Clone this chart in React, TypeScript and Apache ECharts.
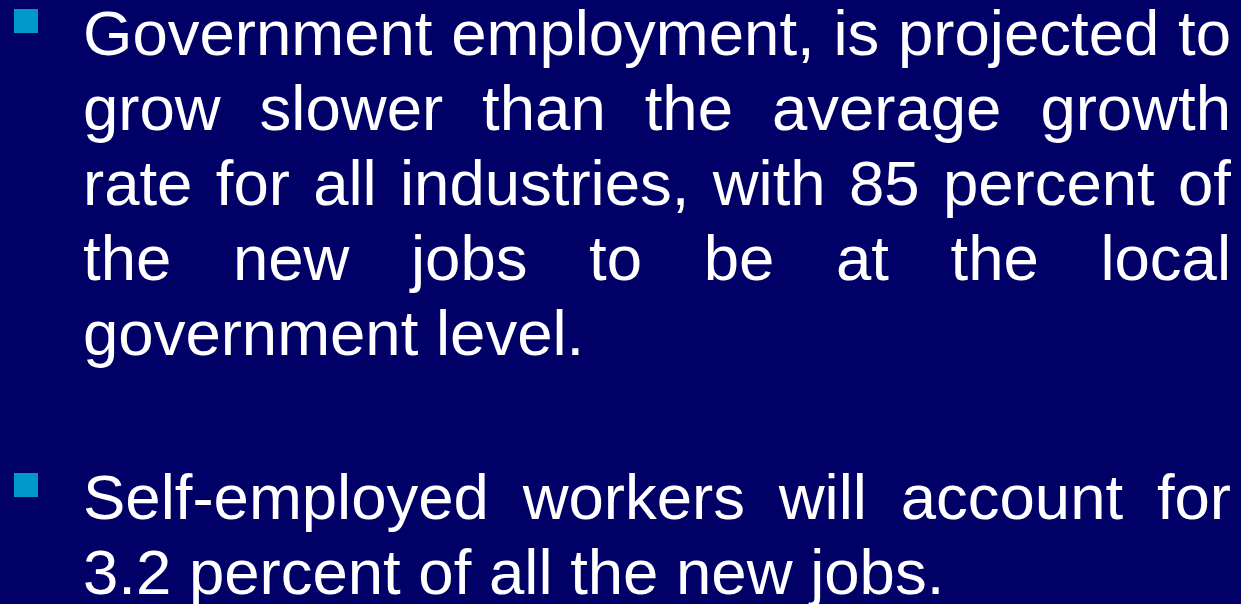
import React, { useEffect, useRef } from "react";
import * as echarts from "echarts";

const paragraph1Lines: string[] = [
  "Government employment, is projected to",
  "grow slower than the average growth",
  "rate for all industries, with 85 percent of",
  "the new jobs to be at the local",
  "government level.",
];
const paragraph2Lines: string[] = [
  "Self-employed workers will account for",
  "3.2 percent of all the new jobs.",
];
const paragraphs: string[][] = [paragraph1Lines, paragraph2Lines];

const W = 1241;
const H = 604;
const BG = "#000066";
const BULLET = "#0099CC";
const FONT_SIZE = 63.5;
const FONT_FAMILY = "'Liberation Sans', Arial, sans-serif";
const TEXT_LEFT = 83;
const TEXT_RIGHT = 1231;
const LINE_STEP = 75;
const PARA_BASELINES = [55, 519];

export default function App() {
  const ref = useRef<HTMLDivElement>(null);
  useEffect(() => {
    if (!ref.current) return;
    const chart = echarts.init(ref.current, undefined, { renderer: "svg" });
    const canvas = document.createElement("canvas");
    const ctx = canvas.getContext("2d")!;
    const font = `${FONT_SIZE}px ${FONT_FAMILY}`;
    ctx.font = font;
    const elements: any[] = [];
    elements.push({ type: "rect", shape: { x: 0, y: 0, width: W, height: H }, style: { fill: BG }, silent: true });
    paragraphs.forEach((lines, pi) => {
      const base0 = PARA_BASELINES[pi];
      elements.push({
        type: "rect",
        shape: { x: 14, y: base0 - 46, width: 24, height: 24 },
        style: { fill: BULLET },
      });
      lines.forEach((line, li) => {
        const baseline = base0 + li * LINE_STEP;
        const yMid = baseline - 22;
        const words = line.split(" ");
        const isLast = li === lines.length - 1;
        if (isLast || words.length < 2) {
          elements.push({
            type: "text",
            x: TEXT_LEFT,
            y: yMid,
            style: { text: line, fill: "#ffffff", font, verticalAlign: "middle", align: "left" },
          });
          return;
        }
        const widths = words.map((w) => ctx.measureText(w).width);
        const total = widths.reduce((a, b) => a + b, 0);
        const gap = (TEXT_RIGHT - TEXT_LEFT - total) / (words.length - 1);
        let x = TEXT_LEFT;
        words.forEach((w, wi) => {
          elements.push({
            type: "text",
            x,
            y: yMid,
            style: { text: w, fill: "#ffffff", font, verticalAlign: "middle", align: "left" },
          });
          x += widths[wi] + gap;
        });
      });
    });
    chart.setOption({ animation: false, backgroundColor: BG, graphic: { elements } });
    return () => chart.dispose();
  }, []);
  return <div ref={ref} style={{ position: "fixed", left: 0, top: 0, width: W, height: H }} />;
}
